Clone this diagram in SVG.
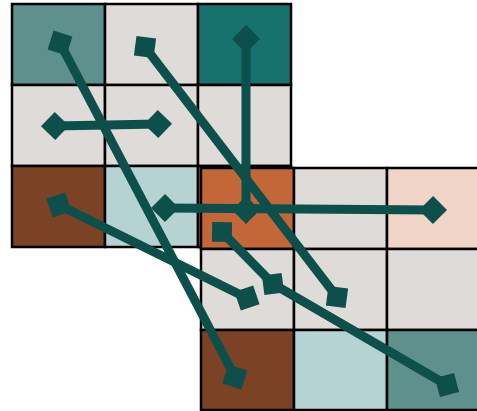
<svg xmlns="http://www.w3.org/2000/svg" width="477" height="411" viewBox="0 0 477 411">
<style>
.c{stroke:#000;stroke-width:2.5}
.g{fill:#dfdbd8}
.tg{fill:#5e918d}
.dt{fill:#17716c}
.br{fill:#7b4226}
.lb{fill:#b5d3d3}
.or{fill:#c36739}
.pe{fill:#f0d4c6}
.con{fill:none;stroke:#0d4f4a;stroke-width:9;marker-start:url(#d);marker-end:url(#d);marker-mid:url(#d)}
</style>
<defs>
<marker id="d" markerUnits="userSpaceOnUse" viewBox="-15 -15 30 30" markerWidth="30" markerHeight="30" refX="0" refY="0" orient="auto">
<path d="M-14 0L0-14L14 0L0 14Z" fill="#0d4f4a"/>
</marker>
</defs>
<rect width="477" height="411" fill="#fff"/>
<g id="grid1">
<rect class="c tg" x="12" y="4" width="93" height="81"/>
<rect class="c g" x="105" y="4" width="93" height="81"/>
<rect class="c dt" x="198" y="4" width="93" height="81"/>
<rect class="c g" x="12" y="85" width="93" height="81"/>
<rect class="c g" x="105" y="85" width="93" height="81"/>
<rect class="c g" x="198" y="85" width="93" height="81"/>
<rect class="c br" x="12" y="166" width="93" height="81"/>
<rect class="c lb" x="105" y="166" width="93" height="81"/>
<rect class="c or" x="198" y="166" width="93" height="81"/>
</g>
<g id="grid2">
<rect class="c or" x="201" y="168" width="93" height="81"/>
<rect class="c g" x="294" y="168" width="93" height="81"/>
<rect class="c pe" x="387" y="168" width="93" height="81"/>
<rect class="c g" x="201" y="249" width="93" height="81"/>
<rect class="c g" x="294" y="249" width="93" height="81"/>
<rect class="c g" x="387" y="249" width="93" height="81"/>
<rect class="c br" x="201" y="330" width="93" height="80"/>
<rect class="c lb" x="294" y="330" width="93" height="80"/>
<rect class="c tg" x="387" y="330" width="93" height="80"/>
</g>
<g id="connectors">
<path class="con" d="M60 43L235 377"/>
<path class="con" d="M145 47L337 297"/>
<path class="con" d="M246 210L246 39"/>
<path class="con" d="M55 126L158 124"/>
<path class="con" d="M165 208L433 210"/>
<path class="con" d="M59 205L247 298"/>
<path class="con" d="M222 232L273 284L447 385"/>
</g>
</svg>
